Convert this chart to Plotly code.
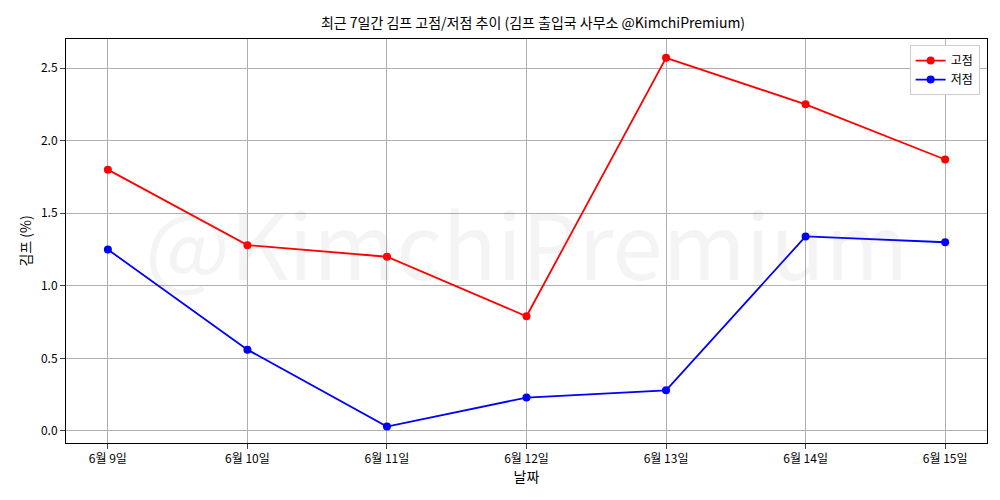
import plotly.graph_objects as go

dates = ["6월 9일", "6월 10일", "6월 11일", "6월 12일", "6월 13일", "6월 14일", "6월 15일"]
high = [1.80, 1.28, 1.20, 0.79, 2.57, 2.25, 1.87]
low = [1.25, 0.56, 0.03, 0.23, 0.28, 1.34, 1.30]
xi = list(range(len(dates)))

font = "Noto Sans CJK KR"
fig = go.Figure()
fig.add_trace(go.Scatter(x=xi, y=high, mode="lines+markers", name="고점",
                         line=dict(color="red", width=1.8), marker=dict(color="red", size=8)))
fig.add_trace(go.Scatter(x=xi, y=low, mode="lines+markers", name="저점",
                         line=dict(color="blue", width=1.8), marker=dict(color="blue", size=8)))
fig.update_layout(
    width=1000, height=500, paper_bgcolor="white", plot_bgcolor="white",
    margin=dict(l=58, r=21, t=31, b=65),
    font=dict(family=font, size=12, color="black"),
    title=dict(text="최근 7일간 김프 고점/저점 추이 (김프 출입국 사무소 @KimchiPremium)",
               x=0.525, xanchor="center", yref="container", y=0.97, yanchor="middle",
               font=dict(size=14)),
    legend=dict(x=0.992, y=0.985, xanchor="right", yanchor="top",
                bordercolor="#cccccc", borderwidth=1, bgcolor="white"),
    showlegend=True,
)
fig.update_xaxes(range=[-0.3, 6.3], tickvals=xi, ticktext=dates, showgrid=True,
                 gridcolor="#b0b0b0", showline=True, linecolor="black", mirror=True,
                 ticks="outside", title=dict(text="날짜", standoff=4), zeroline=False)
fig.update_yaxes(range=[-0.083, 2.70], tickvals=[0, 0.5, 1, 1.5, 2, 2.5],
                 ticktext=["0.0", "0.5", "1.0", "1.5", "2.0", "2.5"], showgrid=True,
                 gridcolor="#b0b0b0", showline=True, linecolor="black", mirror=True,
                 ticks="outside", title=dict(text="김프 (%)", standoff=6), zeroline=False)
fig.add_annotation(text="@KimchiPremium", xref="paper", yref="paper", x=0.5, y=0.5,
                   showarrow=False, font=dict(size=90, color="rgba(128,128,128,0.09)", family=font))
fig.write_html("out.html")
